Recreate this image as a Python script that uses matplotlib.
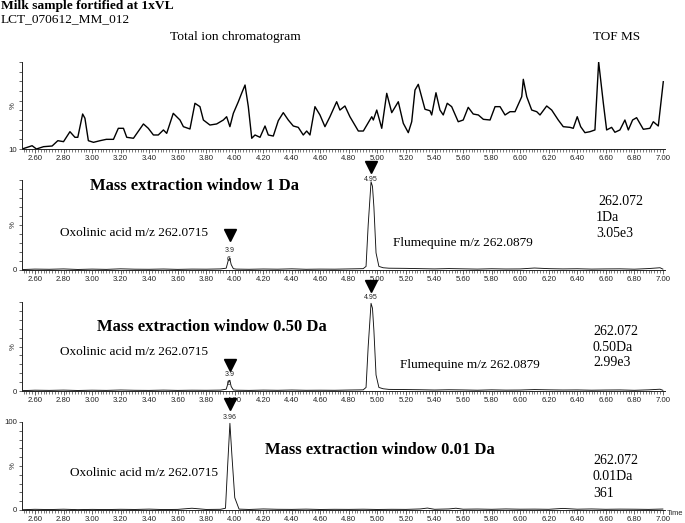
import numpy as np
import matplotlib
matplotlib.use("Agg")
import matplotlib.pyplot as plt
from matplotlib.ticker import MultipleLocator, FixedLocator, FuncFormatter

# ---------------- data ----------------
tic_time = [2.51, 2.58, 2.61, 2.66, 2.72, 2.76, 2.80, 2.845, 2.88, 2.90, 2.934, 2.95, 2.974,
            3.01, 3.056, 3.10, 3.15, 3.184, 3.22, 3.243, 3.29, 3.36, 3.394, 3.43, 3.464, 3.50,
            3.523, 3.569, 3.616, 3.64, 3.686, 3.721, 3.756, 3.78, 3.826, 3.873, 3.92, 3.943,
            3.966, 3.99, 4.025, 4.048, 4.072, 4.095, 4.119, 4.142, 4.177, 4.212, 4.235, 4.27,
            4.305, 4.34, 4.375, 4.41, 4.445, 4.48, 4.504, 4.527, 4.562, 4.597, 4.632, 4.667,
            4.714, 4.737, 4.772, 4.807, 4.866, 4.901, 4.96, 4.971, 4.995, 5.03, 5.065, 5.10,
            5.146, 5.181, 5.216, 5.24, 5.263, 5.286, 5.333, 5.368, 5.38, 5.41, 5.438, 5.461,
            5.489, 5.52, 5.566, 5.601, 5.636, 5.671, 5.707, 5.742, 5.789, 5.824, 5.859, 5.894,
            5.929, 5.964, 6.011, 6.022, 6.046, 6.081, 6.116, 6.139, 6.186, 6.221, 6.267, 6.302,
            6.349, 6.372, 6.40, 6.424, 6.454, 6.489, 6.524, 6.55, 6.583, 6.606, 6.641, 6.664,
            6.699, 6.734, 6.758, 6.788, 6.816, 6.863, 6.909, 6.933, 6.968, 7.003]
tic_value = [10, 13.4, 10, 12.4, 13.1, 18.6, 17.6, 27.9, 22.1, 22.1, 46.2, 41.8, 18.6,
             16.9, 18.6, 20.0, 20.0, 31.4, 31.4, 22.1, 21.1, 35.9, 31.4, 24.5, 24.5, 29.7,
             26.2, 46.9, 40.0, 33.1, 30.7, 57.3, 53.8, 40.0, 34.8, 35.9, 40.0, 43.4,
             33.1, 46.9, 58.9, 67.6, 76.2, 53.8, 21.1, 24.5, 22.1, 33.8, 24.5, 23.4,
             39.3, 47.6, 40.0, 33.8, 32.4, 24.5, 28.6, 24.5, 53.8, 45.2, 33.1, 43.4,
             58.9, 50.3, 54.5, 43.4, 28.6, 28.6, 43.4, 40.0, 50.3, 31.4, 67.6, 47.6,
             58.9, 36.6, 26.9, 38.2, 71.0, 76.9, 51.1, 49.6, 45.2, 68.2, 50.3, 45.2,
             57.3, 53.8, 38.2, 40.0, 53.1, 46.2, 45.2, 40.7, 40.0, 53.8, 53.8, 45.2,
             48.6, 48.6, 64.1, 82.1, 64.1, 50.3, 48.6, 45.2, 54.5, 50.3, 40.0, 33.1,
             32.4, 31.4, 43.4, 33.1, 26.9, 27.9, 29.7, 100.0, 57.3, 29.7, 32.4, 27.3,
             29.7, 40.0, 29.7, 40.0, 42.4, 30.4, 31.4, 38.2, 33.8, 79.6]

xic1_time = [2.51, 2.60, 2.70, 2.80, 2.90, 3.00, 3.10, 3.20, 3.30, 3.40, 3.50, 3.60, 3.70,
             3.80, 3.90, 3.94, 3.955, 3.965, 3.975, 3.99, 4.01, 4.10, 4.20, 4.30, 4.40, 4.50,
             4.60, 4.70, 4.80, 4.90, 4.92, 4.935, 4.955, 4.965, 4.975, 4.99, 5.01, 5.04, 5.08,
             5.20, 5.30, 5.40, 5.50, 5.60, 5.70, 5.80, 5.90, 6.00, 6.10, 6.20, 6.30, 6.40,
             6.50, 6.60, 6.70, 6.80, 6.90, 6.98, 7.00]
xic1_value = [0.5, 1.0, 0.8, 1.2, 0.6, 1.0, 0.7, 1.3, 0.9, 0.8, 1.1, 0.7, 1.0,
              0.9, 1.2, 2.0, 11.0, 13.0, 6.0, 1.5, 1.0, 0.8, 1.1, 0.9, 1.3, 0.8,
              1.0, 0.9, 1.2, 1.5, 4.0, 50.0, 98.0, 93.0, 70.0, 19.0, 4.0, 2.5, 2.0,
              1.8, 1.5, 1.2, 1.6, 1.3, 1.0, 1.4, 1.1, 1.2, 2.2, 1.5, 1.2, 1.4,
              1.0, 1.2, 1.3, 0.9, 1.6, 2.5, 1.0]

xic2_time = xic1_time
xic2_value = [0.4, 0.9, 0.7, 1.0, 0.6, 0.9, 0.7, 1.1, 0.8, 0.7, 1.0, 0.7, 0.9,
              0.8, 1.0, 2.0, 10.0, 12.0, 5.0, 1.2, 0.9, 0.7, 1.0, 0.8, 1.1, 0.8,
              0.9, 0.8, 1.1, 1.3, 4.0, 50.0, 98.5, 93.0, 68.0, 18.0, 4.0, 2.5, 1.8,
              1.6, 1.4, 1.1, 1.4, 1.2, 0.9, 1.3, 1.0, 1.1, 1.6, 1.3, 1.1, 1.2,
              0.9, 1.1, 1.2, 0.8, 1.3, 2.0, 0.8]

xic3_time = [2.51, 2.60, 2.70, 2.80, 2.90, 3.00, 3.10, 3.20, 3.30, 3.40, 3.50, 3.60, 3.70,
             3.80, 3.90, 3.935, 3.95, 3.966, 3.98, 4.00, 4.03, 4.10, 4.20, 4.30, 4.40, 4.50,
             4.60, 4.70, 4.80, 4.90, 5.00, 5.10, 5.20, 5.30, 5.35, 5.40, 5.50, 5.55, 5.60,
             5.70, 5.80, 5.90, 6.00, 6.10, 6.20, 6.30, 6.40, 6.50, 6.60, 6.70, 6.80, 6.90, 7.00]
xic3_value = [0.3, 0.8, 0.5, 0.9, 0.4, 0.7, 0.5, 0.8, 0.6, 1.0, 0.5, 0.7, 2.0,
              0.6, 0.8, 2.0, 50.0, 98.5, 62.0, 14.0, 1.0, 0.6, 1.2, 0.8, 0.7, 1.0,
              0.6, 0.8, 0.7, 0.9, 0.6, 0.8, 0.7, 1.2, 2.2, 0.8, 1.2, 2.0, 0.9,
              1.1, 0.8, 1.2, 0.9, 1.0, 0.8, 1.8, 0.9, 1.2, 0.8, 1.0, 0.9, 0.7, 1.1]

panel_xlim = (2.509, 7.015)
major_ticks = [2.60, 2.80, 3.00, 3.20, 3.40, 3.60, 3.80, 4.00, 4.20, 4.40, 4.60, 4.80,
               5.00, 5.20, 5.40, 5.60, 5.80, 6.00, 6.20, 6.40, 6.60, 6.80, 7.00]

SERIF = ["Liberation Serif", "DejaVu Serif"]
SANS = ["Liberation Sans", "DejaVu Sans"]

fig = plt.figure(figsize=(6.85, 5.23), dpi=100)
W, H = 685.0, 523.0

def axes_px(left, right, top, bottom):
    return fig.add_axes([left / W, 1 - bottom / H, (right - left) / W, (bottom - top) / H])

def style(ax, ymin, ylabels):
    ax.set_xlim(*panel_xlim)
    ax.set_ylim(ymin, 100)
    for s in ("top", "right"):
        ax.spines[s].set_visible(False)
    for s in ("left", "bottom"):
        ax.spines[s].set_linewidth(0.7)
        ax.spines[s].set_color("#222222")
    ax.xaxis.set_major_locator(FixedLocator(major_ticks))
    ax.xaxis.set_minor_locator(MultipleLocator(0.02))
    ax.xaxis.set_major_formatter(FuncFormatter(lambda v, p: "%.2f" % v))
    ax.tick_params(axis="x", which="major", length=3, width=0.5, pad=1.5,
                   labelsize=5.6, colors="#222222")
    ax.tick_params(axis="x", which="minor", length=1.8, width=0.45, colors="#333333")
    yt = list(np.arange(ymin, 100.1, 10))
    ax.yaxis.set_major_locator(FixedLocator(yt))
    ax.set_yticklabels([ylabels.get(int(round(v)), "") for v in yt])
    ax.tick_params(axis="y", which="major", length=2.5, width=0.5, pad=1,
                   labelsize=5.6, colors="#222222")
    for lab in ax.get_xticklabels() + ax.get_yticklabels():
        lab.set_family(SANS)
    ymid = ymin + (100 - ymin) * 0.5
    ax.text(-0.014, ymid, "%", transform=ax.get_yaxis_transform(), rotation=90,
            ha="center", va="center", fontsize=5.6, family=SANS, color="#222222")

# Panel 1 - TIC
ax1 = axes_px(22, 665, 62, 149)
ax1.plot(tic_time, tic_value, color="black", lw=1.0)
style(ax1, 10, {10: "10"})

# Panel 2
ax2 = axes_px(22, 665, 180, 270)
ax2.plot(xic1_time, xic1_value, color="#111111", lw=0.65)
style(ax2, 0, {0: "0"})

# Panel 3
ax3 = axes_px(22, 665, 302, 391)
ax3.plot(xic2_time, xic2_value, color="#111111", lw=0.65)
style(ax3, 0, {0: "0"})

# Panel 4
ax4 = axes_px(22, 665, 422, 510)
ax4.plot(xic3_time, xic3_value, color="#111111", lw=0.65)
style(ax4, 0, {0: "0", 100: "100"})
ax4.text(1.002, -0.04, "Time", transform=ax4.transAxes, fontsize=5.4, family=SANS,
         ha="left", va="center", color="#222222")

def marker(ax, t, y_tri, label_lines):
    ax.plot([t], [y_tri], marker="v", ms=8.5, color="black", mec="black",
            linestyle="none", clip_on=False)
    for (dx, yy, txt) in label_lines:
        ax.text(t + dx, yy, txt, ha="center", va="center", fontsize=5.0, family=SANS,
                clip_on=False, color="#222222")

marker(ax2, 4.955, 114, [(0, 101, "4.95")])
marker(ax2, 3.966, 39, [(0, 22, "3.9"), (-0.012, 12, "6")])
marker(ax3, 4.955, 118, [(0, 105, "4.95")])
marker(ax3, 3.966, 29, [(0, 18, "3.9"), (-0.012, 8, "6")])
marker(ax4, 3.966, 120, [(0, 105, "3.96")])

def t(ax, x, y, s, bold=False, size=9.5):
    ax.text(x, y, s, ha="left", va="center", fontsize=size, family=SERIF,
            fontweight="bold" if bold else "normal", color="black", clip_on=False)

# Panel 2 texts
t(ax2, 2.985, 93, "Mass extraction window 1 Da", bold=True, size=12)
t(ax2, 2.775, 41, "Oxolinic acid m/z 262.0715")
t(ax2, 5.109, 30, "Flumequine m/z 262.0879")
t(ax2, 6.545, 75.6, "262.072", size=10)
t(ax2, 6.531, 57.8, "1Da", size=10)
t(ax2, 6.531, 41, "3.05e3", size=10)
# Panel 3 texts
t(ax3, 3.034, 72, "Mass extraction window 0.50 Da", bold=True, size=12)
t(ax3, 2.775, 43.8, "Oxolinic acid m/z 262.0715")
t(ax3, 5.158, 29.2, "Flumequine m/z 262.0879")
t(ax3, 6.510, 67.4, "262.072", size=10)
t(ax3, 6.510, 49.4, "0.50Da", size=10)
t(ax3, 6.510, 31.5, "2.99e3", size=10)
# Panel 4 texts
t(ax4, 4.212, 68, "Mass extraction window 0.01 Da", bold=True, size=12)
t(ax4, 2.845, 42, "Oxolinic acid m/z 262.0715")
t(ax4, 6.510, 56.8, "262.072", size=10)
t(ax4, 6.510, 38.6, "0.01Da", size=10)
t(ax4, 6.510, 19.3, "361", size=10)

# Header
fig.text(1 / W, 1 - 6 / H, "Milk sample fortified at 1xVL", ha="left", va="center",
         fontsize=9.7, family=SERIF, fontweight="bold")
fig.text(1 / W, 1 - 19 / H, "LCT_070612_MM_012", ha="left", va="center",
         fontsize=9.6, family=SERIF)
fig.text(170 / W, 1 - 37 / H, "Total ion chromatogram", ha="left", va="center",
         fontsize=9.7, family=SERIF)
fig.text(593 / W, 1 - 37 / H, "TOF MS", ha="left", va="center",
         fontsize=9.5, family=SERIF)

fig.savefig("out.png", dpi=100)
